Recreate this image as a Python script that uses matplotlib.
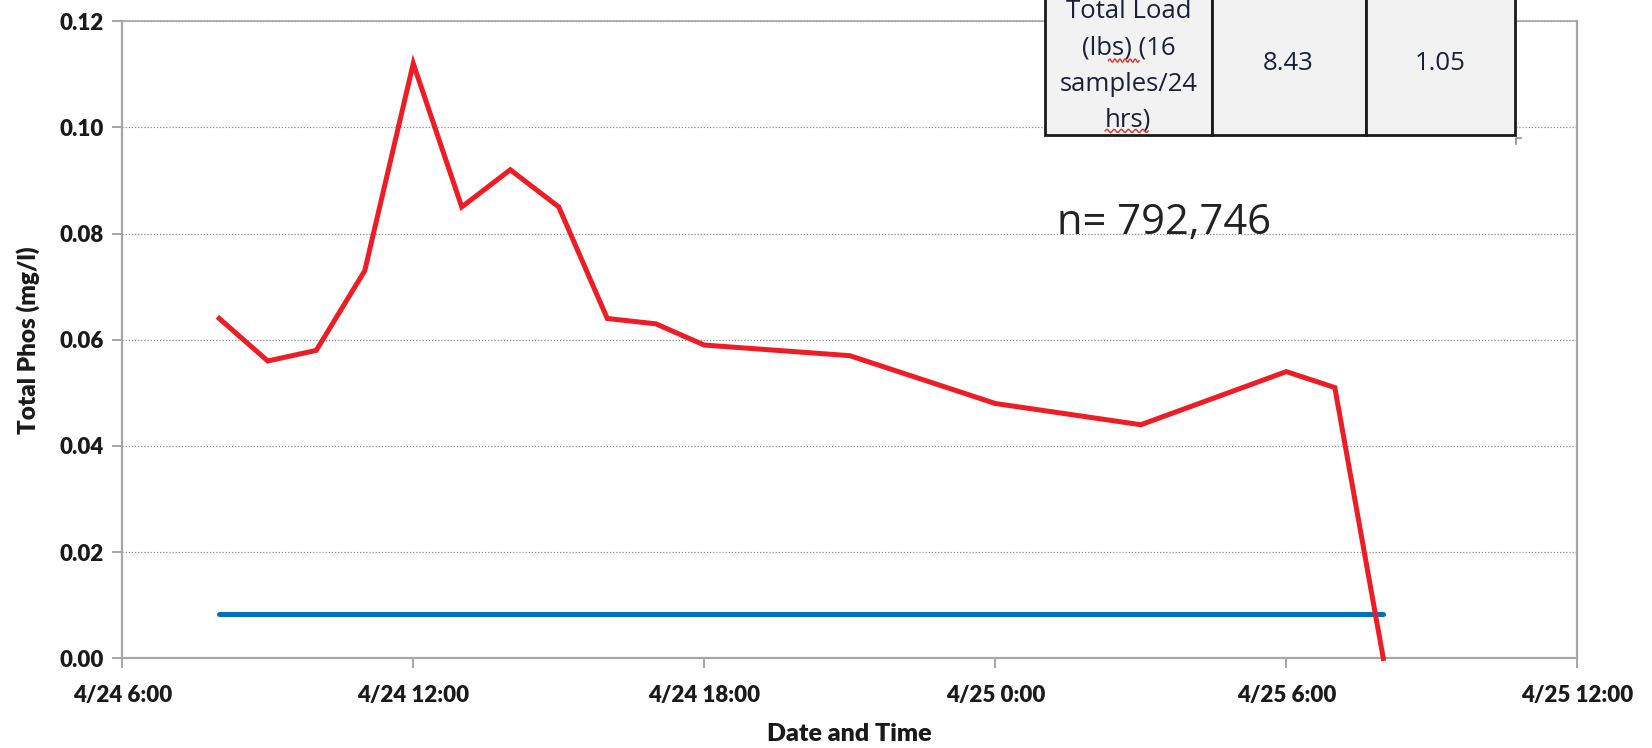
import matplotlib
matplotlib.use("Agg")
import matplotlib.pyplot as plt
from matplotlib.patches import Rectangle
import numpy as np
import pandas as pd

# ---- data ----
sample_times = ["2013-04-24 08:00", "2013-04-24 09:00", "2013-04-24 10:00", "2013-04-24 11:00",
                "2013-04-24 12:00", "2013-04-24 13:00", "2013-04-24 14:00", "2013-04-24 15:00",
                "2013-04-24 16:00", "2013-04-24 17:00", "2013-04-24 18:00", "2013-04-24 21:00",
                "2013-04-25 00:00", "2013-04-25 03:00", "2013-04-25 06:00", "2013-04-25 07:00",
                "2013-04-25 08:00"]
total_phos = [0.064, 0.056, 0.058, 0.073, 0.112, 0.085, 0.092, 0.085, 0.064, 0.063,
              0.059, 0.057, 0.048, 0.044, 0.054, 0.051, 0.000]
baseline_times = ["2013-04-24 08:00", "2013-04-25 08:00"]
baseline_values = [0.0083, 0.0083]
x_ticks = ["2013-04-24 06:00", "2013-04-24 12:00", "2013-04-24 18:00",
           "2013-04-25 00:00", "2013-04-25 06:00", "2013-04-25 12:00"]
x_tick_labels = ["4/24 6:00", "4/24 12:00", "4/24 18:00", "4/25 0:00", "4/25 6:00", "4/25 12:00"]
y_ticks = [0.00, 0.02, 0.04, 0.06, 0.08, 0.10, 0.12]
table_cells = ["Total Load\n(lbs) (16\nsamples/24\nhrs)", "8.43", "1.05"]
annotation = "n= 792,746"

plt.rcParams['font.family'] = ['Lato', 'DejaVu Sans']

fig = plt.figure(figsize=(16.52, 7.48), dpi=100)
ax = fig.add_axes([0.0740, 0.1197, 0.9548 - 0.0740, 0.9719 - 0.1197])

t = pd.to_datetime(sample_times)
bt = pd.to_datetime(baseline_times)
ax.plot(bt, baseline_values, color="#0070c0", lw=3.6, solid_capstyle="round", zorder=3)
ax.plot(t, total_phos, color="#ee1c25", lw=3.6, solid_joinstyle="miter", zorder=4, clip_on=False)

xt = pd.to_datetime(x_ticks)
ax.set_xlim(xt[0], xt[-1])
ax.set_ylim(0, 0.12)
ax.set_xticks(xt)
ax.set_xticklabels(x_tick_labels)
ax.set_yticks(y_ticks)
ax.set_yticklabels([f"{v:.2f}" for v in y_ticks])

ax.grid(axis="y", color="#8c8c8c", linestyle=(0, (1, 1.5)), lw=0.9)
ax.set_axisbelow(True)
for s in ["left", "bottom", "right"]:
    ax.spines[s].set_color("#a6a6a6")
    ax.spines[s].set_linewidth(1.6)
ax.spines["top"].set_color("#a6a6a6")
ax.spines["top"].set_linestyle((0, (1, 1)))
ax.spines["top"].set_linewidth(1.2)

ax.tick_params(axis="both", colors="#a6a6a6", width=1.4, length=7)
for lab in ax.get_xticklabels() + ax.get_yticklabels():
    lab.set_color("#1a1a1a")
    lab.set_fontweight("heavy")
    lab.set_fontsize(16)
ax.tick_params(axis="x", pad=12)
ax.tick_params(axis="y", pad=6)

ax.set_xlabel("Date and Time", fontsize=18, fontweight="heavy", color="#1a1a1a", labelpad=12)
ax.set_ylabel("Total Phos (mg/l)", fontsize=17.5, fontweight="heavy", color="#1a1a1a", labelpad=14)

# annotation
fig.text(0.6397, 0.7014, annotation, fontsize=30, color="#222222", ha="left", va="center",
         family=["Open Sans", "DejaVu Sans"])

# table (drawn in figure coordinates, extending past top)
col_edges = [0.6327, 0.7334, 0.8266, 0.9171]
y0, y1 = 0.8195, 1.02
for i in range(3):
    fig.add_artist(Rectangle((col_edges[i], y0), col_edges[i + 1] - col_edges[i], y1 - y0,
                             transform=fig.transFigure, facecolor="#f2f2f2",
                             edgecolor="#1a1a1a", lw=2.0, zorder=10))
    cx = (col_edges[i] + col_edges[i + 1]) / 2
    fig.text(cx, 0.9120 if i == 0 else 0.9155, table_cells[i], ha="center", va="center",
             fontsize=18.5, color="#1b1f3a", linespacing=1.6, zorder=11,
             family=["Open Sans", "DejaVu Sans"])

# spell-check style wavy underlines
for xa, xb, yy in [(0.6710, 0.6895, 0.9190), (0.6690, 0.6950, 0.8250)]:
    xs = np.linspace(xa, xb, 40)
    ys = yy + 0.0022 * np.sin((xs - xa) / (xb - xa) * 2 * np.pi * 6)
    fig.add_artist(plt.Line2D(xs, ys, transform=fig.transFigure, color="#e0302a", lw=1.0, zorder=12))

# small corner mark
fig.add_artist(plt.Line2D([0.9175, 0.9175, 0.921], [0.807, 0.8155, 0.8155],
                          transform=fig.transFigure, color="#8c8c8c", lw=1.2, zorder=11))

fig.savefig("out.png", dpi=100)
